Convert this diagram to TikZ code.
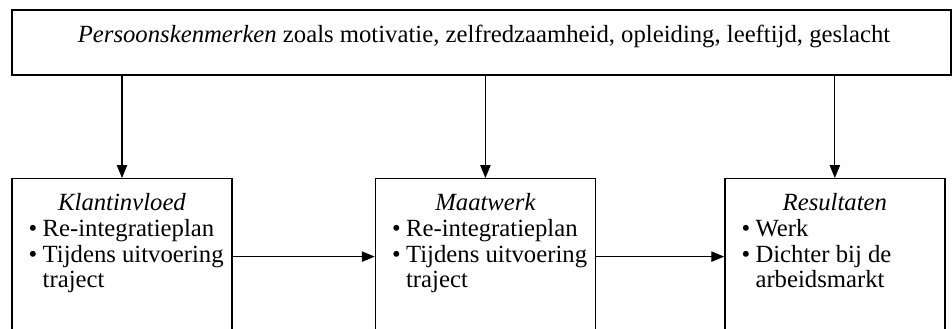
\documentclass[tikz,border=0pt]{standalone}
\usepackage{fontspec}
\setmainfont{Liberation Serif}
\usetikzlibrary{arrows.meta,positioning,calc}
\tikzset{
  bovenkader/.style = {draw, line width=0.7pt, minimum width=160.3mm,
                       minimum height=11.1mm, inner sep=0pt},
  kader/.style      = {draw, line width=0.7pt, minimum width=37.55mm,
                       minimum height=26.6mm, inner sep=0pt},
  pijl/.style       = {-{Triangle[length=6.2pt,width=5pt]}, line width=0.5pt},
  every node/.style = {font=\fontsize{12}{12.6}\selectfont},
  tekst/.style      = {anchor=base, inner sep=0pt},
  titel/.style      = {anchor=base, inner sep=0pt, font=\fontsize{12}{12.6}\selectfont\itshape},
  lijst/.style      = {anchor=base west, align=left, inner sep=0pt},
}
\newcommand{\punt}{\makebox[6.8pt][l]{\textbullet}}

\begin{document}
\begin{tikzpicture}[x=0.1707mm, y=-0.1707mm]
  \useasboundingbox (0,0) rectangle (952,329);
  \clip (0,0) rectangle (952,329);

  % bovenste kader
  \node[bovenkader] (kenmerken) at (481.5,42.5) {};
  \node[tekst] (kenmerkentekst) at ($(kenmerken.north)+(2.5,33)$)
    {\textit{Persoonskenmerken} zoals motivatie, zelfredzaamheid, opleiding, leeftijd, geslacht};

  % drie kaders onderaan
  \node[kader, anchor=north] (klant) at (122,178) {};
  \node[kader, right=24.24mm of klant] (maat) {};
  \node[kader, right=21.85mm of maat] (resultaat) {};

  \node[titel] (klanttitel) at ($(klant.north)+(0,33)$) {Klantinvloed};
  \node[titel] (maattitel) at ($(maat.north)+(0,33)$) {Maatwerk};
  \node[titel] (resultaattitel) at ($(resultaat.north)+(0,33)$) {Resultaten};

  % basislijn van de laatste regel
  \node[lijst] (klantlijst) at ($(klant.north west)+(17,110)$)
    {\punt Re-integratieplan\\ \punt Tijdens uitvoering\\ \hspace*{6.8pt}traject};
  \node[lijst] (maatlijst) at ($(maat.north west)+(17,110)$)
    {\punt Re-integratieplan\\ \punt Tijdens uitvoering\\ \hspace*{6.8pt}traject};
  \node[lijst] (resultaatlijst) at ($(resultaat.north west)+(17,110)$)
    {\punt Werk\\ \punt Dichter bij de\\ \hspace*{6.8pt}arbeidsmarkt};

  % pijlen
  \draw[pijl] (kenmerken.south -| klant.north) -- (klant.north);
  \draw[pijl] (kenmerken.south -| maat.north) -- (maat.north);
  \draw[pijl] (kenmerken.south -| resultaat.north) -- (resultaat.north);
  \draw[pijl] (klant) -- (maat);
  \draw[pijl] (maat) -- (resultaat);
\end{tikzpicture}
\end{document}
